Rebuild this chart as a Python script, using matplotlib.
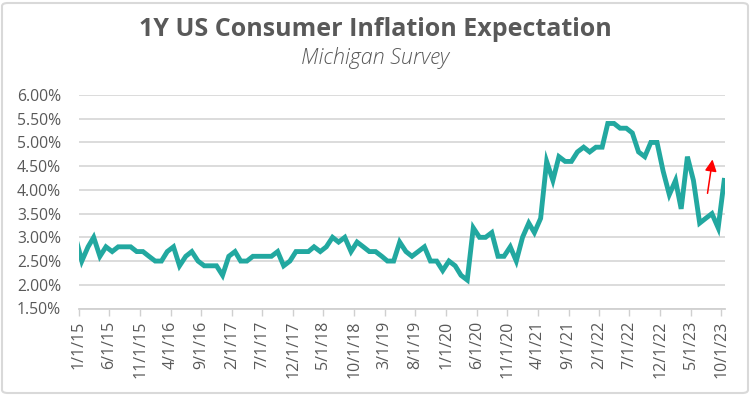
import numpy as np
import pandas as pd
import matplotlib
matplotlib.use("Agg")
import matplotlib.pyplot as plt
from matplotlib.patches import FancyBboxPatch

# UMich 1-year inflation expectation, monthly (Dec 2014 .. Oct 2023)
first_month = "2014-12-01"
values = [
    3.0,                                                        # 2014-12
    2.5, 2.8, 3.0, 2.6, 2.8, 2.7, 2.8, 2.8, 2.8, 2.7, 2.7, 2.6,  # 2015
    2.5, 2.5, 2.7, 2.8, 2.4, 2.6, 2.7, 2.5, 2.4, 2.4, 2.4, 2.2,  # 2016
    2.6, 2.7, 2.5, 2.5, 2.6, 2.6, 2.6, 2.6, 2.7, 2.4, 2.5, 2.7,  # 2017
    2.7, 2.7, 2.8, 2.7, 2.8, 3.0, 2.9, 3.0, 2.7, 2.9, 2.8, 2.7,  # 2018
    2.7, 2.6, 2.5, 2.5, 2.9, 2.7, 2.6, 2.7, 2.8, 2.5, 2.5, 2.3,  # 2019
    2.5, 2.4, 2.2, 2.1, 3.2, 3.0, 3.0, 3.1, 2.6, 2.6, 2.8, 2.5,  # 2020
    3.0, 3.3, 3.1, 3.4, 4.6, 4.2, 4.7, 4.6, 4.6, 4.8, 4.9, 4.8,  # 2021
    4.9, 4.9, 5.4, 5.4, 5.3, 5.3, 5.2, 4.8, 4.7, 5.0, 5.0, 4.4,  # 2022
    3.9, 4.2, 3.6, 4.7, 4.2, 3.3, 3.4, 3.5, 3.2, 4.2,            # 2023
]
y_ticks = [1.5, 2.0, 2.5, 3.0, 3.5, 4.0, 4.5, 5.0, 5.5, 6.0]
title = "1Y US Consumer Inflation Expectation"
subtitle = "Michigan Survey"

# survey readings sit mid-month
dates = pd.date_range(first_month, periods=len(values), freq="MS") + pd.Timedelta(days=14)
tick_dates = pd.date_range("2015-01-01", "2023-10-01", freq="5MS")
tick_labels = [f"{d.month}/{d.day}/{d.year % 100}" for d in tick_dates]

plt.rcParams["font.family"] = ["Open Sans", "DejaVu Sans"]
grey = "#595959"
teal = "#22A8A0"

fig = plt.figure(figsize=(7.5, 3.95), dpi=100)
ax = fig.add_axes([79 / 750, 1 - 308.5 / 395, (725 - 79) / 750, (308.5 - 95) / 395])

ax.plot(dates, values, color=teal, lw=3.5, solid_joinstyle="miter", zorder=3)

ax.set_xlim(pd.Timestamp("2015-01-01"), pd.Timestamp("2023-10-19"))
ax.set_ylim(1.5, 6.0)
ax.set_yticks(y_ticks)
ax.set_yticklabels([f"{t:.2f}%" for t in y_ticks], color=grey, fontsize=11.3)
ax.set_xticks(tick_dates)
ax.set_xticklabels(tick_labels, rotation=90, color=grey, fontsize=11.5)
ax.tick_params(axis="y", length=0, pad=13)
ax.tick_params(axis="x", length=5, color="#d0d0d0", width=1, pad=4)
ax.grid(axis="y", color="#d9d9d9", lw=1.3)
ax.set_axisbelow(True)
for side in ["left", "right", "top"]:
    ax.spines[side].set_visible(False)
ax.spines["bottom"].set_color("#d0d0d0")
ax.spines["bottom"].set_linewidth(1.3)

# red arrow marking the latest jump
ax.annotate("", xy=(pd.Timestamp("2023-08-20"), 4.70), xytext=(pd.Timestamp("2023-07-22"), 3.87),
            arrowprops=dict(arrowstyle="-|>,head_length=0.7,head_width=0.35", color="red", lw=1.1),
            zorder=4)

fig.text(0.5, 1 - 30 / 395, title, ha="center", va="center", fontsize=18, fontweight="bold", color=grey)
fig.text(0.5, 1 - 58 / 395, subtitle, ha="center", va="center", fontsize=15.5, style="italic",
         fontweight="light", color=grey)

fig.patches.append(FancyBboxPatch((2 / 750, 2 / 395), 746 / 750, 390 / 395,
                                  boxstyle="round,pad=0,rounding_size=0.008",
                                  transform=fig.transFigure, fill=False,
                                  edgecolor="#d9d9d9", lw=1.5))

fig.savefig("out.png", dpi=100)
